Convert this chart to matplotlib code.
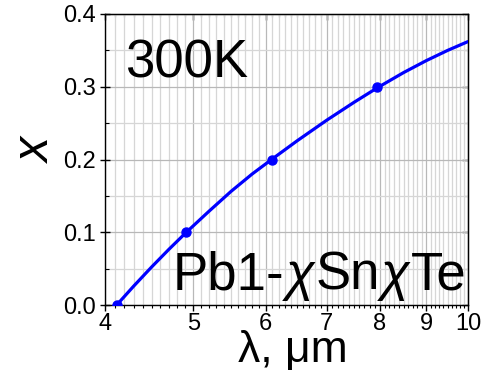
import numpy as np
import matplotlib
matplotlib.use("Agg")
import matplotlib.pyplot as plt
from matplotlib.ticker import FixedLocator, FixedFormatter, NullFormatter

plt.rcParams['font.family'] = ['Liberation Sans', 'DejaVu Sans']

# measured cutoff wavelengths for Pb1-xSnxTe compositions
lam_pts = [4.12, 4.91, 6.10, 7.95]
x_pts = [0.0, 0.1, 0.2, 0.3]

# calculated composition vs. cutoff wavelength
lam_curve = [4.12, 4.3, 4.5, 4.7, 4.91, 5.2, 5.5, 5.8, 6.1, 6.5, 7.0, 7.5,
             7.95, 8.5, 9.0, 9.5, 10.0]
x_curve = [0.0, 0.0259, 0.0523, 0.0765, 0.0998, 0.1288, 0.1563, 0.1801, 0.2006,
           0.2259, 0.2540, 0.2786, 0.2984, 0.3195, 0.3359, 0.3500, 0.3621]

x_major = [4, 5, 6, 7, 8, 9, 10]
x_major_labels = ['4', '5', '6', '7', '8', '9', '10']
y_major = [0.0, 0.1, 0.2, 0.3, 0.4]
y_major_labels = ['0.0', '0.1', '0.2', '0.3', '0.4']

W, H = 483, 373
fig = plt.figure(figsize=(W / 100, H / 100), dpi=100)
ax = fig.add_axes([105 / W, 68 / H, 363 / W, 291 / H])
ax.set_xscale('log')
ax.set_xlim(4, 10)
ax.set_ylim(0, 0.4)

blue = '#0000ff'
ax.plot(lam_curve, x_curve, color=blue, lw=2.3, solid_capstyle='round',
        solid_joinstyle='round', zorder=3)
ax.plot(lam_pts, x_pts, 'o', color=blue, ms=6.5, zorder=4)

x_minor = [v for v in np.round(np.arange(4.1, 10.0, 0.1), 1) if abs(v - round(v)) > 1e-6]
y_minor = [0.05, 0.15, 0.25, 0.35]

ax.xaxis.set_major_locator(FixedLocator(x_major))
ax.xaxis.set_major_formatter(FixedFormatter(x_major_labels))
ax.xaxis.set_minor_locator(FixedLocator(x_minor))
ax.xaxis.set_minor_formatter(NullFormatter())
ax.yaxis.set_major_locator(FixedLocator(y_major))
ax.yaxis.set_major_formatter(FixedFormatter(y_major_labels))
ax.yaxis.set_minor_locator(FixedLocator(y_minor))
ax.yaxis.set_minor_formatter(NullFormatter())

ax.tick_params(axis='x', which='major', direction='out', length=4.5, width=1,
               labelsize=17, pad=1.5, top=False)
ax.tick_params(axis='x', which='minor', direction='out', length=2.5, width=0.8, top=False)
ax.tick_params(axis='y', which='major', direction='inout', length=6.5, width=1,
               labelsize=17, pad=3, right=False)
ax.tick_params(axis='y', which='minor', direction='in', length=3, width=0.8, right=False)

# mirrored ticks on top and right
secx = ax.secondary_xaxis('top')
secx.xaxis.set_major_locator(FixedLocator(x_major))
secx.xaxis.set_minor_locator(FixedLocator(x_minor))
secx.tick_params(which='major', direction='in', length=4.5, width=1, labeltop=False)
secx.tick_params(which='minor', direction='in', length=2.5, width=0.8, labeltop=False)
secy = ax.secondary_yaxis('right')
secy.yaxis.set_major_locator(FixedLocator(y_major))
secy.yaxis.set_minor_locator(FixedLocator(y_minor))
secy.tick_params(which='major', direction='in', length=4.5, width=1, labelright=False)
secy.tick_params(which='minor', direction='in', length=3, width=0.8, labelright=False)

ax.set_axisbelow(True)
ax.grid(which='major', color='#b8b8b8', lw=0.9)
ax.grid(which='minor', color='#d6d6d6', lw=0.9)
for s in ax.spines.values():
    s.set_linewidth(1)

# axis titles
fig.text(293 / W, 1 - 362 / H, 'λ, μm', fontsize=32, ha='center', va='baseline')
fig.text(50 / W, 1 - 150 / H, 'x', fontsize=36, style='italic', rotation=90,
         ha='center', va='baseline', rotation_mode='anchor')

# annotations
fig.text(125 / W, 1 - 77 / H, '300K', fontsize=38, ha='left', va='baseline')

pieces = [('Pb1-', 'normal'), ('χ', 'italic'), ('Sn', 'normal'),
          ('χ', 'italic'), ('Te', 'normal')]
fig.canvas.draw()
renderer = fig.canvas.get_renderer()
xpos = 173.0
base = 1 - 290 / H
for txt, st in pieces:
    t = fig.text(xpos / W, base, txt, fontsize=38, style=st,
                 ha='left', va='baseline')
    bb = t.get_window_extent(renderer)
    xpos = bb.x1 + 1

fig.savefig('out.png', dpi=100)
